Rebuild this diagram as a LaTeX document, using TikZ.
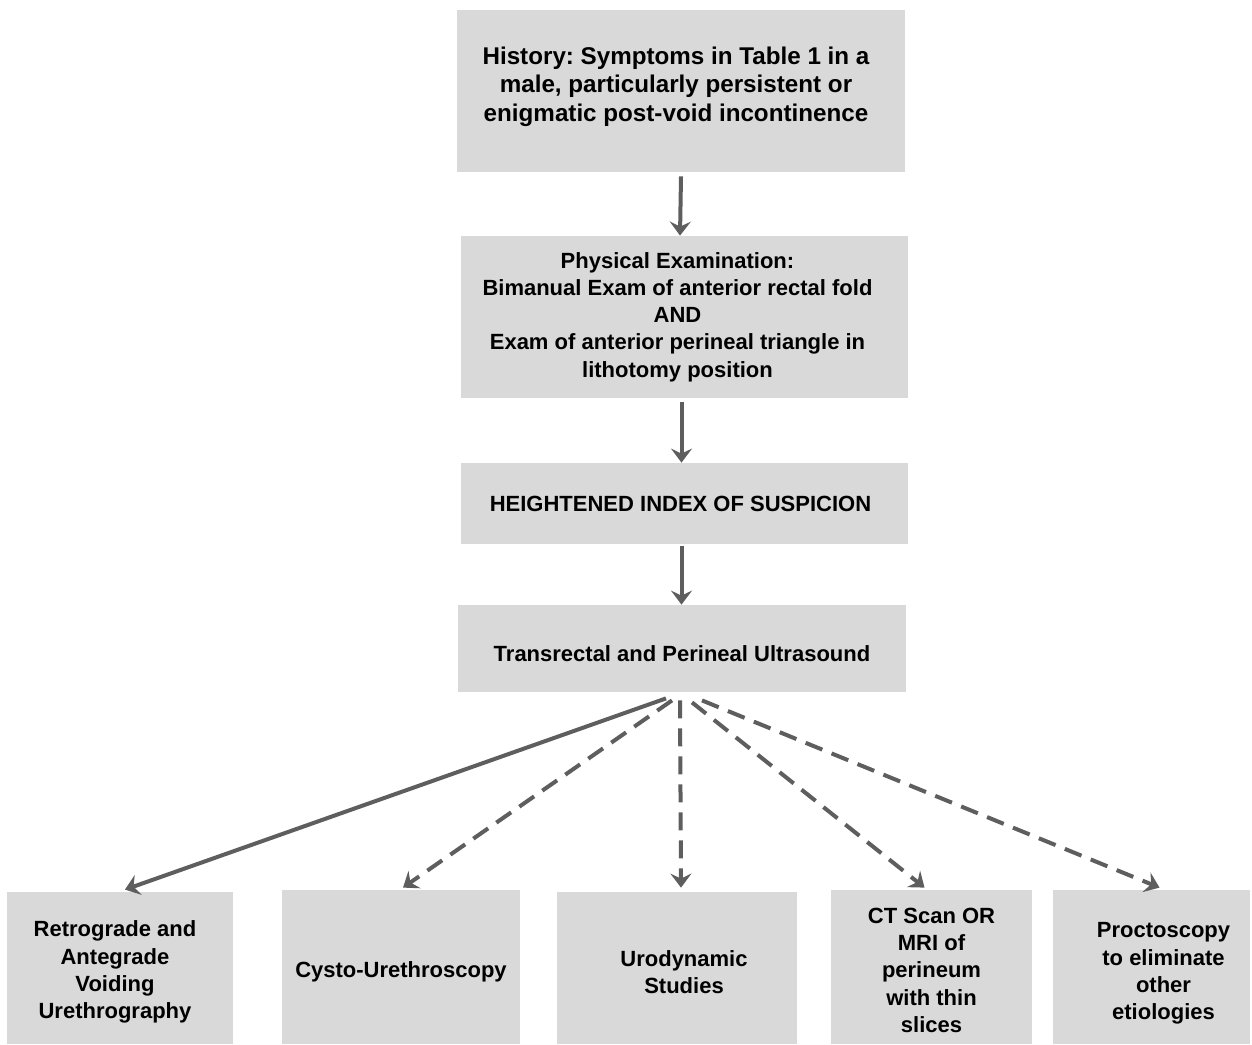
\documentclass[tikz,border=0pt]{standalone}
\usepackage{fontspec}
\setmainfont{Liberation Sans}
\usetikzlibrary{arrows.meta}
\definecolor{boxgray}{HTML}{D9D9D9}
\definecolor{arrowgray}{HTML}{5E5E5E}
\newcommand\padL[1]{\hspace*{#1}}
\frenchspacing
\begin{document}
\begin{tikzpicture}[x=0.5pt,y=-0.5pt,
  box/.style={fill=boxgray, draw=none, align=center, inner sep=0pt,
    font=\fontsize{11}{13.6}\selectfont\bfseries\frenchspacing},
  flow/.style={draw=arrowgray, line width=2pt,
    -{Stealth[length=7pt,width=10.5pt,inset=2.5pt]}},
  dashflow/.style={flow, dash pattern=on 9pt off 5pt}]
\useasboundingbox (0,0) rectangle (1252,1044);
\fill[white] (0,0) rectangle (1252,1044);

\node[box, minimum width=224pt, minimum height=81pt,
  font=\fontsize{12.1}{14.25}\selectfont\bfseries\frenchspacing] (H) at (681,91)
  {\padL{-5pt}History: Symptoms in Table 1 in a\\\padL{-5pt}male, particularly persistent or\\\padL{-5pt}enigmatic post-void incontinence\rule[-7pt]{0pt}{7pt}};
\node[box, minimum width=223.5pt, minimum height=81pt] (P) at (684.5,317)
  {\padL{-7pt}Physical Examination:\\\padL{-7pt}Bimanual Exam of anterior rectal fold\\\padL{-7pt}AND\\\padL{-7pt}Exam of anterior perineal triangle in\\\padL{-7pt}lithotomy position};
\node[box, minimum width=223.5pt, minimum height=40.5pt] (S) at (684.5,503.5)
  {\padL{-4pt}HEIGHTENED INDEX OF SUSPICION};
\node[box, minimum width=224pt, minimum height=43.5pt] (T) at (682,648.5)
  {\rule{0pt}{13.5pt}Transrectal and Perineal Ultrasound};

\node[box, minimum width=113pt, minimum height=76pt] (B1) at (120,968)
  {\rule{0pt}{12pt}\padL{-5pt}Retrograde and\\\padL{-5pt}Antegrade\\\padL{-5pt}Voiding\\\padL{-5pt}Urethrography};
\node[box, minimum width=119pt, minimum height=77pt] (B2) at (401,967)
  {\rule{0pt}{12.5pt}Cysto-Urethroscopy};
\node[box, minimum width=120pt, minimum height=76pt] (B3) at (677,968)
  {\rule{0pt}{12pt}\padL{7pt}Urodynamic\\\padL{7pt}Studies};
\node[box, minimum width=100.5pt, minimum height=77pt] (B4) at (931.5,967)
  {\rule{0pt}{11pt}CT Scan OR\\MRI of\\perineum\\with thin\\slices};
\node[box, minimum width=98.5pt, minimum height=77pt] (B5) at (1151.5,967)
  {\rule{0pt}{14pt}\padL{12pt}Proctoscopy\\\padL{12pt}to eliminate\\\padL{12pt}other\\\padL{12pt}etiologies};

\draw[flow] ([shift={(0,-2pt)}]H.south) -- ([xshift=-0.5pt]H.south |- P.north);
\draw[flow] ([shift={(-1.5pt,-2pt)}]P.south) -- ([xshift=-1.5pt]P.south |- S.north);
\draw[flow] ([shift={(-1.5pt,-1pt)}]S.south) -- ([xshift=-1.5pt]S.south |- T.north);

\coordinate (src) at ([shift={(-1pt,-3pt)}]T.south);
\draw[flow] ([xshift=-7pt]src) -- ([shift={(2.5pt,1pt)}]B1.north);
\draw[dashflow] ([shift={(-4pt,-1pt)}]src) -- ([shift={(1pt,1pt)}]B2.north);
\draw[dashflow] ([yshift=-1pt]src) -- ([shift={(2pt,2pt)}]B3.north);
\draw[dashflow] ([shift={(6pt,-2pt)}]src) -- ([shift={(-3.5pt,1pt)}]B4.north);
\draw[dashflow] ([shift={(11pt,-1pt)}]src) -- ([shift={(4pt,1pt)}]B5.north);
\end{tikzpicture}
\end{document}
